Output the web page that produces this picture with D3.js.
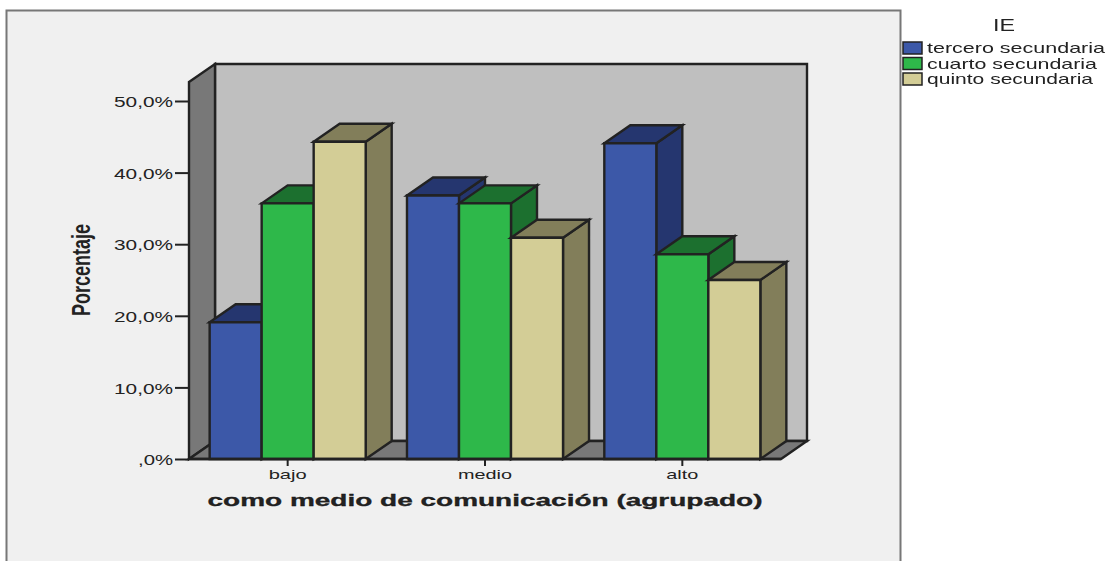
<!DOCTYPE html>
<html><head><meta charset="utf-8">
<script src="https://cdn.jsdelivr.net/npm/d3@7"></script>
<style>html,body{margin:0;padding:0;background:#fff}svg{display:block;filter:blur(0.55px)}text{font-family:"Liberation Sans",Arial,sans-serif;fill:#222}</style>
</head><body><svg id="c" width="1107" height="561"></svg>
<script>
const categories = ["bajo","medio","alto"];
const seriesNames = ["tercero secundaria","cuarto secundaria","quinto secundaria"];
const tercero = [19.1,36.8,44.1];
const cuarto = [35.7,35.7,28.6];
const quinto = [44.3,30.9,25.0];
const yTicks = [0,10,20,30,40,50];
const yTickLabels = [",0%","10,0%","20,0%","30,0%","40,0%","50,0%"];
const categoryLabelWidths = [38,54,32];
const legendLabelWidths = [178,170,166];
const fills = ["#3c58a8","#2eb84a","#d3cd96"];
const shades = ["#25366f","#1c702f","#827e5a"];
const values = [tercero,cuarto,quinto];

const svg = d3.select("#c");
const dx = 26, dy = -18, edge = "#222";
const x = d3.scaleBand().domain(categories).range([189,781]);
const inner = d3.scaleBand().domain(seriesNames).range([0,x.bandwidth()]).paddingInner(0).paddingOuter(0.397);
const y = d3.scaleLinear().domain([0,50]).range([459,101]);
const yTop = 82, y0 = y(0), xL = x.range()[0], xR = x.range()[1];

svg.append("rect").attr("x",6.5).attr("y",10.5).attr("width",894).attr("height",560)
  .attr("fill","#f0f0f0").attr("stroke","#777").attr("stroke-width",2);

const poly = (pts,fill,sw=2.4)=>svg.append("polygon").attr("points",pts.map(p=>p.join(",")).join(" "))
  .attr("fill",fill).attr("stroke",edge).attr("stroke-width",sw).attr("stroke-linejoin","miter");

poly([[xL+dx,yTop+dy],[xR+dx,yTop+dy],[xR+dx,y0+dy],[xL+dx,y0+dy]],"#bfbfbf");
poly([[xL,yTop],[xL+dx,yTop+dy],[xL+dx,y0+dy],[xL,y0]],"#787878");
poly([[xL,y0],[xL+dx,y0+dy],[xR+dx,y0+dy],[xR,y0]],"#787878");

categories.forEach((c,ci)=>{
  seriesNames.forEach((s,si)=>{
    const a = x(c)+inner(s), b = a+inner.bandwidth(), t = y(values[si][ci]);
    poly([[b,t],[b+dx,t+dy],[b+dx,y0+dy],[b,y0]],shades[si]);
    poly([[a,t],[a+dx,t+dy],[b+dx,t+dy],[b,t]],shades[si]);
    poly([[a,t],[b,t],[b,y0],[a,y0]],fills[si]);
  });
});

const yAxis = d3.axisLeft(y).tickValues(yTicks).tickSize(14).tickPadding(2).tickFormat((d,i)=>yTickLabels[i]);
const gy = svg.append("g").attr("transform",`translate(${xL},0)`).call(yAxis);
gy.select(".domain").remove();
gy.selectAll("line").attr("stroke",edge).attr("stroke-width",2);
gy.selectAll("text").attr("font-size",14).attr("fill","#333").attr("dy","0.4em")
  .attr("textLength",(d,i)=>i===0?35:59).attr("lengthAdjust","spacingAndGlyphs");

const xAxis = d3.axisBottom(x).tickSize(7).tickPadding(4);
const gx = svg.append("g").attr("transform",`translate(0,${y0})`).call(xAxis);
gx.select(".domain").attr("d",`M${xL},0H${xR}`).attr("stroke",edge).attr("stroke-width",2.4);
gx.selectAll("line").attr("stroke",edge).attr("stroke-width",2);
gx.selectAll("text").attr("font-size",13).attr("fill","#333")
  .attr("textLength",(d,i)=>categoryLabelWidths[i]).attr("lengthAdjust","spacingAndGlyphs");

svg.append("text").attr("x",485).attr("y",506).attr("text-anchor","middle")
  .attr("font-size",17).attr("font-weight","bold").attr("fill","#111")
  .attr("stroke","#111").attr("stroke-width",0.3)
  .attr("textLength",555).attr("lengthAdjust","spacingAndGlyphs")
  .text("como medio de comunicación (agrupado)");

svg.append("text").attr("transform","translate(90,270) rotate(-90)").attr("text-anchor","middle")
  .attr("font-size",25).attr("font-weight","bold").attr("fill","#111")
  .attr("textLength",92).attr("lengthAdjust","spacingAndGlyphs").text("Porcentaje");

svg.append("text").attr("x",1004).attr("y",31).attr("text-anchor","middle")
  .attr("font-size",16).attr("fill","#222")
  .attr("textLength",22).attr("lengthAdjust","spacingAndGlyphs").text("IE");

const legendY = d3.scalePoint().domain(seriesNames).range([48,79]);
seriesNames.forEach((s,i)=>{
  svg.append("rect").attr("x",903).attr("y",legendY(s)-6).attr("width",19).attr("height",12)
    .attr("fill",fills[i]).attr("stroke",edge).attr("stroke-width",1.5);
  svg.append("text").attr("x",927).attr("y",legendY(s)+5).attr("font-size",15).attr("fill","#333")
    .attr("textLength",legendLabelWidths[i]).attr("lengthAdjust","spacingAndGlyphs").text(s);
});
</script></body></html>
